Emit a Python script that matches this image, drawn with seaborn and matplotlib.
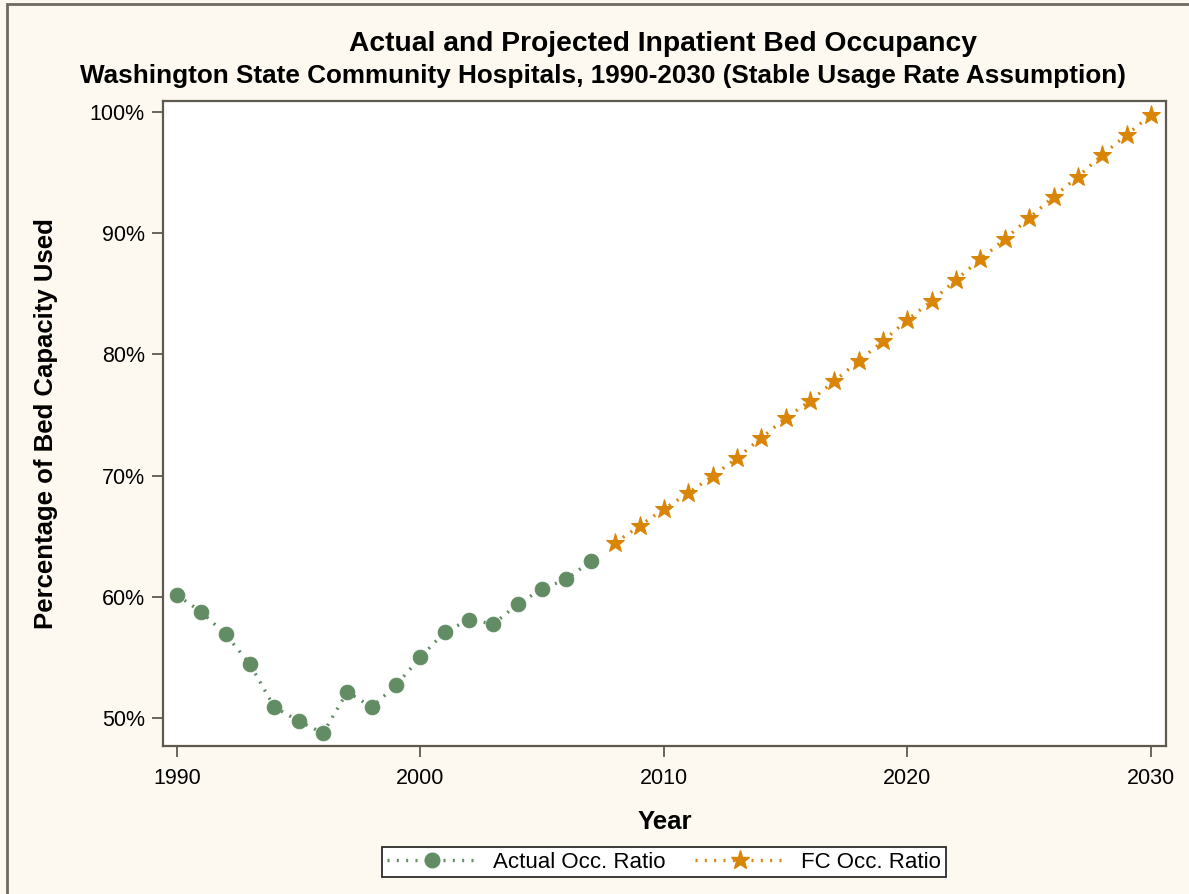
import numpy as np
import pandas as pd
import matplotlib
matplotlib.use("Agg")
import matplotlib.pyplot as plt
import seaborn as sns
from matplotlib.ticker import FuncFormatter
from matplotlib.lines import Line2D
from matplotlib.patches import Rectangle

# Data
actual_years = list(range(1990, 2008))
actual_ratio = [60.15, 58.75, 56.9, 54.45, 50.9, 49.75, 48.75, 52.15, 50.9, 52.7,
                55.0, 57.1, 58.1, 57.75, 59.4, 60.65, 61.45, 62.95]
fc_years = list(range(2008, 2031))
fc_ratio = [64.45, 65.85, 67.25, 68.55, 69.95, 71.45, 73.1, 74.75, 76.15, 77.8,
            79.45, 81.1, 82.85, 84.4, 86.15, 87.85, 89.5, 91.25, 93.0, 94.65,
            96.45, 98.1, 99.75]

df_act = pd.DataFrame({'Year': actual_years, 'Ratio': actual_ratio})
df_fc = pd.DataFrame({'Year': fc_years, 'Ratio': fc_ratio})

green = '#628D64'
orange = '#D98507'
bg = '#FDF9F1'
frame = '#5E5A50'
dots = (0.6, 2.2)

sns.set_style("white")
plt.rcParams['font.family'] = ['Liberation Sans', 'DejaVu Sans']
plt.rcParams['text.color'] = 'black'
plt.rcParams['axes.labelcolor'] = 'black'
plt.rcParams['xtick.color'] = 'black'
plt.rcParams['ytick.color'] = 'black'

fig = plt.figure(figsize=(11.89, 8.94), dpi=100, facecolor=bg)
ax = fig.add_axes([163/1189, 1 - 746/894, (1166-163)/1189, (746-101)/894])
ax.set_facecolor('white')

sns.lineplot(data=df_act, x='Year', y='Ratio', ax=ax, color=green, linestyle=':',
             linewidth=2.4, marker='o', markersize=10.5, markeredgecolor=green,
             dashes=False)
sns.lineplot(data=df_fc, x='Year', y='Ratio', ax=ax, color=orange, linestyle=':',
             linewidth=2.4, marker='*', markersize=14, markeredgecolor=orange,
             dashes=False)
for ln in ax.get_lines():
    ln.set_dashes(dots)

ax.set_xlim(1989.43, 2030.62)
ax.set_ylim(47.69, 100.9)
ax.set_xticks([1990, 2000, 2010, 2020, 2030])
ax.set_yticks([50, 60, 70, 80, 90, 100])
ax.yaxis.set_major_formatter(FuncFormatter(lambda v, p: f'{v:.0f}%'))
ax.tick_params(axis='both', labelsize=15.5, direction='out', length=8, width=1.3,
               color=frame, left=True, bottom=True, pad=5)
ax.tick_params(axis='x', pad=8)
for s in ax.spines.values():
    s.set_color(frame)
    s.set_linewidth(1.6)

ax.set_xlabel('Year', fontsize=18.5, fontweight='bold', labelpad=15)
ax.set_ylabel('Percentage of Bed Capacity Used', fontsize=18.5, fontweight='bold', labelpad=23)

fig.text(663/1189, 1 - 44/894, 'Actual and Projected Inpatient Bed Occupancy',
         ha='center', va='center', fontsize=20.3, fontweight='bold')
fig.text(603/1189, 1 - 76/894,
         'Washington State Community Hospitals, 1990-2030 (Stable Usage Rate Assumption)',
         ha='center', va='center', fontsize=18.8, fontweight='bold')

handles = [
    Line2D([], [], color=green, linewidth=2.4, dashes=dots, marker='o', markersize=10.5),
    Line2D([], [], color=orange, linewidth=2.4, dashes=dots, marker='*', markersize=14),
]
leg = fig.legend(handles, ['Actual Occ. Ratio', 'FC Occ. Ratio'], loc='center',
                 bbox_to_anchor=(664/1189, 1 - 862/894), ncol=2, fontsize=16,
                 frameon=True, fancybox=False, edgecolor='#2B2B2B', framealpha=1,
                 handlelength=4.1, handletextpad=0.7, columnspacing=1.3,
                 borderpad=0.2, borderaxespad=0)
leg.get_frame().set_linewidth(1.3)

# outer border
fig.patches.append(Rectangle((7/1189, -0.05), 1.2, 1 - 4/894 + 0.05, transform=fig.transFigure,
                             fill=False, edgecolor='#6E6A60', linewidth=2))

fig.savefig('out.png', dpi=100, facecolor=bg)
